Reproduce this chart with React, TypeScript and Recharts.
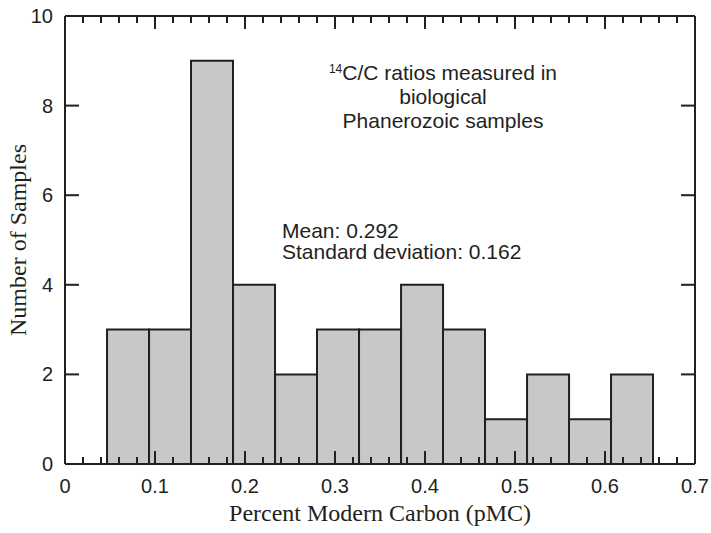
import { ComposedChart, Bar, XAxis, YAxis } from "recharts";

const INK = "#231f20";
const BAR_FILL = "#c7c8ca";
const SANS = "'Liberation Sans', Arial, sans-serif";
const SERIF = "'Liberation Serif', 'Times New Roman', serif";

// histogram bin centres (pMC) and counts
const binCenters = [0.07, 0.1167, 0.1633, 0.21, 0.2567, 0.3033, 0.35, 0.3967, 0.4433, 0.49, 0.5367, 0.5833, 0.63];
const counts = [3, 3, 9, 4, 2, 3, 3, 4, 3, 1, 2, 1, 2];

const xTicks = [
  0, 0.02, 0.04, 0.06, 0.08, 0.1, 0.12, 0.14, 0.16, 0.18, 0.2, 0.22, 0.24, 0.26, 0.28, 0.3,
  0.32, 0.34, 0.36, 0.38, 0.4, 0.42, 0.44, 0.46, 0.48, 0.5, 0.52, 0.54, 0.56, 0.58, 0.6,
  0.62, 0.64, 0.66, 0.68, 0.7,
];
const yTicks = [0, 2, 4, 6, 8, 10];

const data = binCenters.map((c, i) => ({ pmc: c, n: counts[i] }));

const isMajor = (v: number) => Math.abs(v * 10 - Math.round(v * 10)) < 1e-6;
const fmt = (v: number) => (v === 0 ? "0" : v.toFixed(1));

// with tickSize=0 and tickMargin=0 the tick content sits right on the axis line,
// so the inward tick marks are drawn here
const BottomTick = (props: any) => {
  const { x, y, payload } = props;
  const major = isMajor(payload.value);
  return (
    <g>
      <line x1={x} x2={x} y1={y} y2={y - (major ? 13 : 7)} stroke={INK} strokeWidth={2} />
      {major && (
        <text x={x} y={y + 29} textAnchor="middle" fontSize={20} fill={INK} fontFamily={SANS}>
          {fmt(payload.value)}
        </text>
      )}
    </g>
  );
};

const TopTick = (props: any) => {
  const { x, y, payload } = props;
  const major = isMajor(payload.value);
  return <line x1={x} x2={x} y1={y} y2={y + (major ? 13 : 7)} stroke={INK} strokeWidth={2} />;
};

const LeftTick = (props: any) => {
  const { x, y, payload } = props;
  return (
    <g>
      <line x1={x} x2={x + 14} y1={y} y2={y} stroke={INK} strokeWidth={2} />
      <text x={x - 12} y={y + 7} textAnchor="end" fontSize={20} fill={INK} fontFamily={SANS}>
        {payload.value}
      </text>
    </g>
  );
};

const RightTick = (props: any) => {
  const { x, y } = props;
  return <line x1={x} x2={x - 14} y1={y} y2={y} stroke={INK} strokeWidth={2} />;
};

const axisLine = { stroke: INK, strokeWidth: 2 };

export default function App() {
  return (
    <div style={{ position: "absolute", left: 0, top: 0, background: "#fff" }}>
      <ComposedChart
        width={711}
        height={533}
        data={data}
        margin={{ top: 15, right: 0, bottom: 0, left: 0 }}
        barCategoryGap={0}
        barGap={0}
      >
        <XAxis
          dataKey="pmc"
          type="number"
          domain={[0, 0.7]}
          ticks={xTicks}
          interval={0}
          height={69}
          tickSize={0}
          tickMargin={0}
          tickLine={false}
          axisLine={axisLine}
          tick={<BottomTick />}
          allowDataOverflow
        />
        <XAxis
          xAxisId="top"
          dataKey="pmc"
          orientation="top"
          type="number"
          domain={[0, 0.7]}
          ticks={xTicks}
          interval={0}
          height={1}
          tickSize={0}
          tickMargin={0}
          tickLine={false}
          axisLine={axisLine}
          tick={<TopTick />}
          allowDataOverflow
        />
        <YAxis
          type="number"
          domain={[0, 10]}
          ticks={yTicks}
          interval={0}
          width={65}
          tickSize={0}
          tickMargin={0}
          tickLine={false}
          axisLine={axisLine}
          tick={<LeftTick />}
          allowDataOverflow
        />
        <YAxis
          yAxisId="right"
          dataKey="n"
          orientation="right"
          type="number"
          domain={[0, 10]}
          ticks={yTicks}
          interval={0}
          width={16}
          tickSize={0}
          tickMargin={0}
          tickLine={false}
          axisLine={axisLine}
          tick={<RightTick />}
          allowDataOverflow
        />
        <Bar dataKey="n" fill={BAR_FILL} stroke={INK} strokeWidth={2} isAnimationActive={false} />

        <text x={380} y={521} textAnchor="middle" fontSize={24} fill={INK} fontFamily={SERIF}>
          Percent Modern Carbon (pMC)
        </text>
        <text
          x={26}
          y={240}
          textAnchor="middle"
          fontSize={24}
          fill={INK}
          fontFamily={SERIF}
          transform="rotate(-90 26 240)"
        >
          Number of Samples
        </text>

        <text x={443} y={80} textAnchor="middle" fill={INK} fontFamily={SANS} fontSize={21}>
          <tspan fontSize={12} dy={-7}>14</tspan>
          <tspan dy={7}>C/C ratios measured in</tspan>
        </text>
        <text x={443} y={104} textAnchor="middle" fill={INK} fontFamily={SANS} fontSize={21}>
          biological
        </text>
        <text x={443} y={128} textAnchor="middle" fill={INK} fontFamily={SANS} fontSize={21}>
          Phanerozoic samples
        </text>
        <text x={282} y={238} fill={INK} fontFamily={SANS} fontSize={21}>
          Mean: 0.292
        </text>
        <text x={282} y={259} fill={INK} fontFamily={SANS} fontSize={21}>
          Standard deviation: 0.162
        </text>
      </ComposedChart>
    </div>
  );
}
